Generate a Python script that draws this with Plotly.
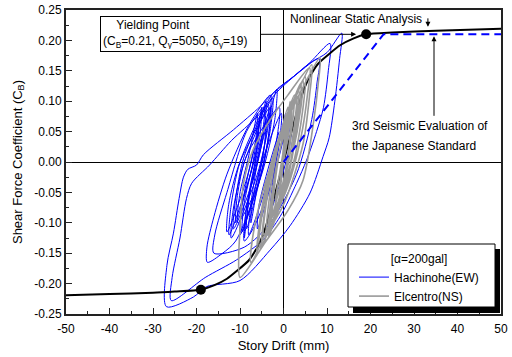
import plotly.graph_objects as go

# ---------------- data ----------------
xtick_vals = [-50, -40, -30, -20, -10, 0, 10, 20, 30, 40, 50]
xtick_text = ["-50", "-40", "-30", "-20", "-10", "0", "10", "20", "30", "40", "50"]
ytick_vals = [-0.25, -0.20, -0.15, -0.10, -0.05, 0.00, 0.05, 0.10, 0.15, 0.20, 0.25]
ytick_text = ["-0.25", "-0.20", "-0.15", "-0.10", "-0.05", "0.00", "0.05", "0.10", "0.15", "0.20", "0.25"]

# Nonlinear static analysis (skeleton curve)
skeleton_drift = [-50, -40, -30, -25, -19, -16, -13, -10.7, -8, -6, -5, -4, -2, 0, 2, 4, 5, 6, 8, 10.7, 13, 16, 19, 25, 35, 50]
skeleton_cb = [-0.219, -0.217, -0.215, -0.213, -0.210, -0.203, -0.192, -0.179, -0.162, -0.140, -0.125, -0.105, -0.054, 0.0,
               0.054, 0.105, 0.125, 0.140, 0.162, 0.179, 0.192, 0.203, 0.210, 0.213, 0.216, 0.219]

# 3rd seismic evaluation of the Japanese standard
standard_drift = [0, 23, 50]
standard_cb = [0.0, 0.21, 0.21]

# Yielding points
yield_drift = [-19, 19]
yield_cb = [-0.21, 0.21]

# Hachinohe(EW) response path (drift mm, CB)
hachinohe_path = [
    (0, 0), (1, 0.04), (2, 0.07), (1.5, 0.03), (-1, -0.04), (-3, -0.08), (-2.6, -0.04), (-1, 0.03), (0.5, 0.08),
    (0, 0.04), (-3, -0.04), (-7, -0.11), (-9, -0.13),
    (-8.6, -0.08), (-6, 0.0), (-1.5, 0.12),
    (-2, 0.07), (-5, -0.02), (-11, -0.13), (-14, -0.15), (-17.5, -0.165),
    (-17.6, -0.14), (-16, -0.09), (-13, -0.02), (-8, 0.06), (-3, 0.11),
    (-3.5, 0.06), (-6, -0.02), (-12, -0.125),
    (-11.6, -0.08), (-9, 0.0), (-2.5, 0.105),
    (-3, 0.055), (-5.5, -0.03), (-10, -0.12),
    (-9.6, -0.075), (-7.5, 0.0), (-4, 0.10),
    (-4.5, 0.05), (-7, -0.03), (-11.5, -0.11),
    (-11.1, -0.065), (-9, 0.01), (-3.5, 0.095),
    (-4, 0.045), (-6, -0.03), (-9.5, -0.115),
    (-9.1, -0.07), (-7, 0.0), (-5, 0.09),
    (-5.5, 0.04), (-8, -0.03), (-12.5, -0.12),
    (-12.1, -0.075), (-10, 0.0), (-2.4, 0.113),
    (2.2, 0.14), (6.1, 0.163), (10, 0.18), (13.4, 0.212),
    (12.9, 0.17), (11.8, 0.10), (10.5, 0.04), (9.1, 0.009), (6.1, -0.051), (1.5, -0.105), (-3.1, -0.145),
    (-10, -0.195), (-17.7, -0.205), (-20.7, -0.222), (-26.9, -0.238),
    (-26.8, -0.17), (-25.3, -0.117), (-24, -0.06), (-23, -0.025), (-22, -0.012), (-20, -0.005),
    (-18.4, 0.012), (-11.5, 0.053),
    (-5.4, 0.091), (-2.4, 0.113), (2.2, 0.14), (6, 0.163), (10.7, 0.195),
    (10.3, 0.15), (9.2, 0.09), (7.6, 0.05), (5.3, 0.003), (3, -0.035), (-0.8, -0.09), (-4.7, -0.128),
    (-10.8, -0.161), (-18, -0.19), (-25.8, -0.228),
    (-25.6, -0.19), (-23.8, -0.125), (-22.3, -0.06), (-21.1, -0.035), (-17, -0.005), (-12, 0.035), (-6, 0.075),
    (-1.5, 0.115), (4, 0.15), (8.2, 0.17),
    (7.7, 0.13), (6.5, 0.07), (3, -0.02), (-3, -0.10), (-9, -0.14), (-16, -0.15),
    (-15.8, -0.12), (-13, -0.05), (-8.5, 0.05), (-4.5, 0.09),
    (-5, 0.04), (-7.5, -0.04), (-9, -0.125),
    (-8.6, -0.08), (-6.5, 0.0), (-3, 0.09),
    (-3.5, 0.04), (-6, -0.04), (-10.5, -0.10),
    (-10.1, -0.055), (-8, 0.01), (-6, 0.08),
    (-6.5, 0.03), (-9, -0.04), (-13, -0.115),
    (-12.6, -0.07), (-10, 0.0), (-3, 0.09),
    (-3.5, 0.04), (-5.5, -0.03), (-8.5, -0.11),
    (-8.1, -0.065), (-6.5, 0.0), (-5.5, 0.075),
    (-6, 0.03), (-8, -0.03), (-11, -0.10),
    (-10.6, -0.055), (-8.5, 0.01), (-1, 0.09),
    (-1.5, 0.04), (-4, -0.04), (-8, -0.12),
    (-7.6, -0.075), (-6, 0.0), (-4, 0.07),
    (-4.5, 0.02), (-6, -0.04), (-7.5, -0.10),
    (-7.1, -0.06), (-4.5, 0.01), (-0.5, 0.08),
    (-1, 0.03), (-3, -0.04), (-6, -0.11),
    (-5.6, -0.07), (-3.5, -0.01), (-1, 0.05),
]

# Elcentro(NS) response path (drift mm, CB)
elcentro_path = [
    (0, 0), (1, 0.04), (2, 0.10),
    (1.6, 0.05), (0, -0.04), (-3, -0.11),
    (-2.6, -0.06), (-0.5, 0.03), (3.5, 0.12),
    (3, 0.07), (0.5, -0.04), (-4, -0.13),
    (-3.6, -0.08), (-2, 0.0), (1, 0.09),
    (0.6, 0.04), (-1.5, -0.06), (-5, -0.14),
    (-4.5, -0.09), (-1.5, 0.03), (5, 0.14),
    (4.5, 0.09), (2, -0.01), (-2.5, -0.10),
    (-2.2, -0.05), (0, 0.05), (4, 0.13),
    (3.5, 0.08), (0.5, -0.04), (-6, -0.15),
    (-5.5, -0.10), (-2, 0.02), (6.5, 0.16),
    (6, 0.11), (4.5, 0.03), (0, -0.07), (-4.5, -0.12),
    (-4, -0.07), (-1.5, 0.02), (3, 0.11),
    (2.5, 0.06), (-0.5, -0.05), (-7.5, -0.165),
    (-7, -0.12), (-4, -0.03), (1, 0.07), (5, 0.13), (8.4, 0.172),
    (8, 0.13), (7, 0.07), (4.5, -0.03), (1, -0.08), (-4, -0.13), (-10, -0.19),
    (-10.3, -0.16), (-10, -0.11), (-9.2, -0.035), (-7, 0.02), (-3, 0.07), (1, 0.11), (6, 0.155),
    (5.5, 0.11), (4, 0.04), (1, -0.04), (-5.5, -0.14),
    (-5, -0.09), (-2, 0.01), (2.5, 0.11),
    (2, 0.06), (0, -0.03), (-3.5, -0.12),
    (-3, -0.07), (-0.5, 0.03), (4.5, 0.135),
    (4, 0.09), (2, 0.01), (-2, -0.09),
    (-1.6, -0.05), (0, 0.02), (1.5, 0.10),
    (1.1, 0.05), (0, 0.0), (-1, -0.06),
    (-0.6, -0.02), (0.5, 0.06),
]

hachinohe_drift = [p[0] for p in hachinohe_path]
hachinohe_cb = [p[1] for p in hachinohe_path]
elcentro_drift = [p[0] for p in elcentro_path]
elcentro_cb = [p[1] for p in elcentro_path]

FONT = "Liberation Sans, Arial, sans-serif"

# plot-area geometry helpers (pixels -> paper)
L, R, T, B = 66, 11, 10, 43
W, H = 512, 357
PW, PH = W - L - R, H - T - B


def px(xp):
    return (xp - L) / PW


def py(yp):
    return (H - B - yp) / PH


fig = go.Figure()

fig.add_trace(go.Scatter(x=hachinohe_drift, y=hachinohe_cb, mode="lines", name="Hachinohe(EW)",
                         line=dict(color="#0000FF", width=1, shape="spline", smoothing=0.8)))
fig.add_trace(go.Scatter(x=skeleton_drift, y=skeleton_cb, mode="lines", showlegend=False,
                         line=dict(color="black", width=2, shape="spline", smoothing=0.6)))
fig.add_trace(go.Scatter(x=elcentro_drift, y=elcentro_cb, mode="lines", name="Elcentro(NS)",
                         line=dict(color="#999999", width=1.6, shape="spline", smoothing=0.8)))
fig.add_trace(go.Scatter(x=standard_drift, y=standard_cb, mode="lines", showlegend=False,
                         line=dict(color="#0000FF", width=2, dash="8px,5px")))
fig.add_trace(go.Scatter(x=yield_drift, y=yield_cb, mode="markers", showlegend=False,
                         marker=dict(color="black", size=10)))

# legend frame with shadow
fig.add_shape(type="rect", xref="paper", yref="paper", x0=px(353), x1=px(500), y0=py(313), y1=py(249),
              fillcolor="black", line=dict(width=0), layer="above")
fig.add_shape(type="rect", xref="paper", yref="paper", x0=px(348), x1=px(495), y0=py(307), y1=py(244),
              fillcolor="white", line=dict(color="black", width=1), layer="above")

# annotations
fig.add_annotation(x=19, y=0.21, ax=-185.5, ay=0,
                   text="\u00a0\u00a0\u00a0\u00a0Yielding Point<br>(C<sub>B</sub>=0.21, Q<sub>y</sub>=5050, \u03b4<sub>y</sub>=19)",
                   align="left", width=155, height=30, borderpad=2, bordercolor="black", borderwidth=1,
                   bgcolor="white", font=dict(family=FONT, size=12, color="black"),
                   showarrow=True, arrowhead=2, arrowsize=1, arrowwidth=1, arrowcolor="black", standoff=10)
fig.add_annotation(xref="paper", yref="paper", x=px(288), y=py(19), xanchor="left", yanchor="middle",
                   text="Nonlinear Static Analysis", showarrow=False,
                   font=dict(family=FONT, size=12, color="black"))
fig.add_annotation(x=33.2, y=0.219, ax=0, ay=-12, text="", showarrow=True, arrowhead=2, arrowsize=1,
                   arrowwidth=1, arrowcolor="black", standoff=2)
fig.add_annotation(xref="paper", yref="paper", x=px(350), y=py(126), xanchor="left", yanchor="middle",
                   text="3rd Seismic Evaluation of", showarrow=False,
                   font=dict(family=FONT, size=12, color="black"))
fig.add_annotation(xref="paper", yref="paper", x=px(350), y=py(146), xanchor="left", yanchor="middle",
                   text="the Japanese Standard", showarrow=False,
                   font=dict(family=FONT, size=12, color="black"))
fig.add_annotation(x=34.6, y=0.21, ax=0, ay=83, text="", showarrow=True, arrowhead=2, arrowsize=1,
                   arrowwidth=1, arrowcolor="black", standoff=2)

axis_common = dict(showgrid=False, showline=True, linecolor="#222222", linewidth=2, mirror=True,
                   zeroline=True, zerolinecolor="black", zerolinewidth=1, automargin=False,
                   ticks="inside", ticklen=6, tickwidth=1, tickcolor="#222222",
                   tickfont=dict(family=FONT, size=12, color="black"))

fig.update_xaxes(range=[-50, 50], tickvals=xtick_vals, ticktext=xtick_text, **axis_common,
                 ticklabelstandoff=3,
                 minor=dict(ticks="inside", ticklen=3, dtick=5, tickcolor="#222222"),
                 title=dict(text="Story Drift (mm)", font=dict(family=FONT, size=13, color="black"), standoff=5))
fig.update_yaxes(range=[-0.25, 0.25], tickvals=ytick_vals, ticktext=ytick_text, **axis_common,
                 minor=dict(ticks="inside", ticklen=3, dtick=0.025, tickcolor="#222222"),
                 title=dict(text="Shear Force Coefficient (C<sub>B</sub>)",
                            font=dict(family=FONT, size=13, color="black"), standoff=9))

fig.update_layout(
    width=W, height=H, margin=dict(l=L, r=R, t=T, b=B, autoexpand=False),
    paper_bgcolor="white", plot_bgcolor="white",
    font=dict(family=FONT, size=12, color="black"),
    legend=dict(x=px(354), y=py(247), xanchor="left", yanchor="top",
                bgcolor="rgba(0,0,0,0)", borderwidth=0,
                title=dict(text="[\u03b1=200gal]", side="top center", font=dict(family=FONT, size=12)),
                font=dict(family=FONT, size=12, color="black"), tracegroupgap=0),
)

fig.write_html("out.html", config={"displayModeBar": False},
               post_script="document.body.style.margin='0px';")
